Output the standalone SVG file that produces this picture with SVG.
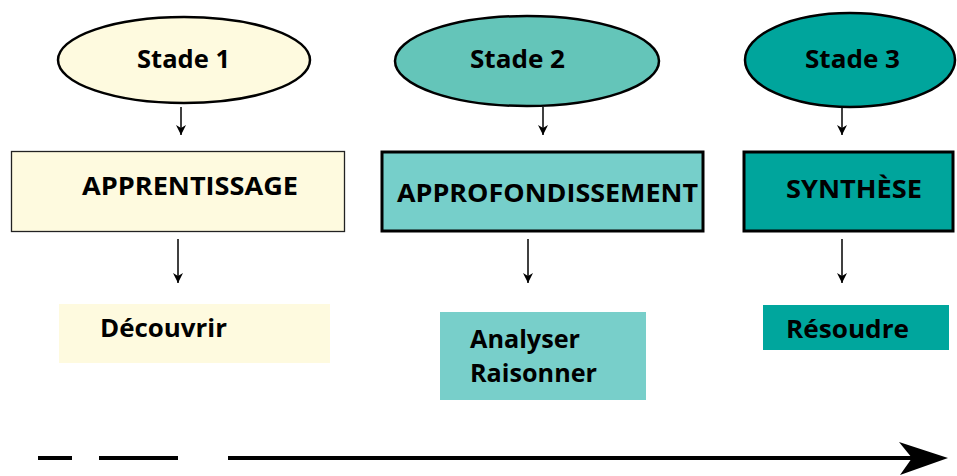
<svg xmlns="http://www.w3.org/2000/svg" width="957" height="476" viewBox="0 0 957 476">
<defs>
<style>
text{font-family:"Open Sans","Noto Sans","Liberation Sans",sans-serif;font-weight:bold;fill:#000;font-size:25px;}
.c{stroke:#000;stroke-width:1.5;fill:none;}
</style>
<marker id="ah" viewBox="0 0 10 10" refX="10" refY="5" markerWidth="10" markerHeight="10" markerUnits="userSpaceOnUse" orient="auto">
<path d="M0,0 L10,5 L0,10 L3,5 Z" fill="#000"/>
</marker>
</defs>
<rect width="957" height="476" fill="#fff"/>
<g id="stade1"><ellipse cx="184" cy="60" rx="126" ry="43" fill="#fefadf" stroke="#000" stroke-width="2.5"/><text x="137" y="68" textLength="93" lengthAdjust="spacingAndGlyphs">Stade 1</text></g>
<g id="stade2"><ellipse cx="527" cy="61" rx="132" ry="45" fill="#64c5b9" stroke="#000" stroke-width="2.5"/><text x="470" y="68" textLength="95" lengthAdjust="spacingAndGlyphs">Stade 2</text></g>
<g id="stade3"><ellipse cx="850" cy="60" rx="105" ry="47" fill="#00a59c" stroke="#000" stroke-width="2.5"/><text x="805" y="68" textLength="95" lengthAdjust="spacingAndGlyphs">Stade 3</text></g>
<g id="apprentissage"><rect x="11.5" y="151.5" width="333" height="80" fill="#fefadf" stroke="#222" stroke-width="1.3"/><text x="82" y="195" textLength="216" lengthAdjust="spacingAndGlyphs">APPRENTISSAGE</text></g>
<g id="approfondissement"><rect x="382" y="152" width="321" height="79" fill="#76cfca" stroke="#000" stroke-width="3"/><text x="397" y="202" textLength="301" lengthAdjust="spacingAndGlyphs">APPROFONDISSEMENT</text></g>
<g id="synthese"><rect x="744" y="152" width="209" height="79" fill="#00a59c" stroke="#000" stroke-width="3"/><text x="786" y="198" textLength="136" lengthAdjust="spacingAndGlyphs">SYNTHÈSE</text></g>
<g id="decouvrir"><rect x="59" y="304" width="271" height="59" fill="#fefadf"/><text x="100" y="337" textLength="127" lengthAdjust="spacingAndGlyphs">Découvrir</text></g>
<g id="analyser"><rect x="440" y="312" width="206" height="88" fill="#78cfca"/><text x="470" y="348" textLength="110" lengthAdjust="spacingAndGlyphs">Analyser</text><text x="470" y="382" textLength="127" lengthAdjust="spacingAndGlyphs">Raisonner</text></g>
<g id="resoudre"><rect x="763" y="305" width="186" height="45" fill="#00a69d"/><text x="786" y="338" textLength="123" lengthAdjust="spacingAndGlyphs">Résoudre</text></g>
<g id="connectors">
<line class="c" x1="181" y1="107" x2="181" y2="135" marker-end="url(#ah)"/>
<line class="c" x1="543" y1="107" x2="543" y2="135" marker-end="url(#ah)"/>
<line class="c" x1="842" y1="108" x2="842" y2="135" marker-end="url(#ah)"/>
<line class="c" x1="178" y1="239" x2="178" y2="283" marker-end="url(#ah)"/>
<line class="c" x1="528" y1="239" x2="528" y2="283" marker-end="url(#ah)"/>
<line class="c" x1="842" y1="239" x2="842" y2="283" marker-end="url(#ah)"/>
</g>
<g id="timeline">
<line x1="38" y1="458" x2="72" y2="458" stroke="#000" stroke-width="4"/>
<line x1="99" y1="458" x2="178" y2="458" stroke="#000" stroke-width="4"/>
<line x1="228" y1="458" x2="915" y2="458" stroke="#000" stroke-width="4"/>
<path d="M899,442 L948,458 L900,475 L912,458 Z" fill="#000"/>
</g>
</svg>
